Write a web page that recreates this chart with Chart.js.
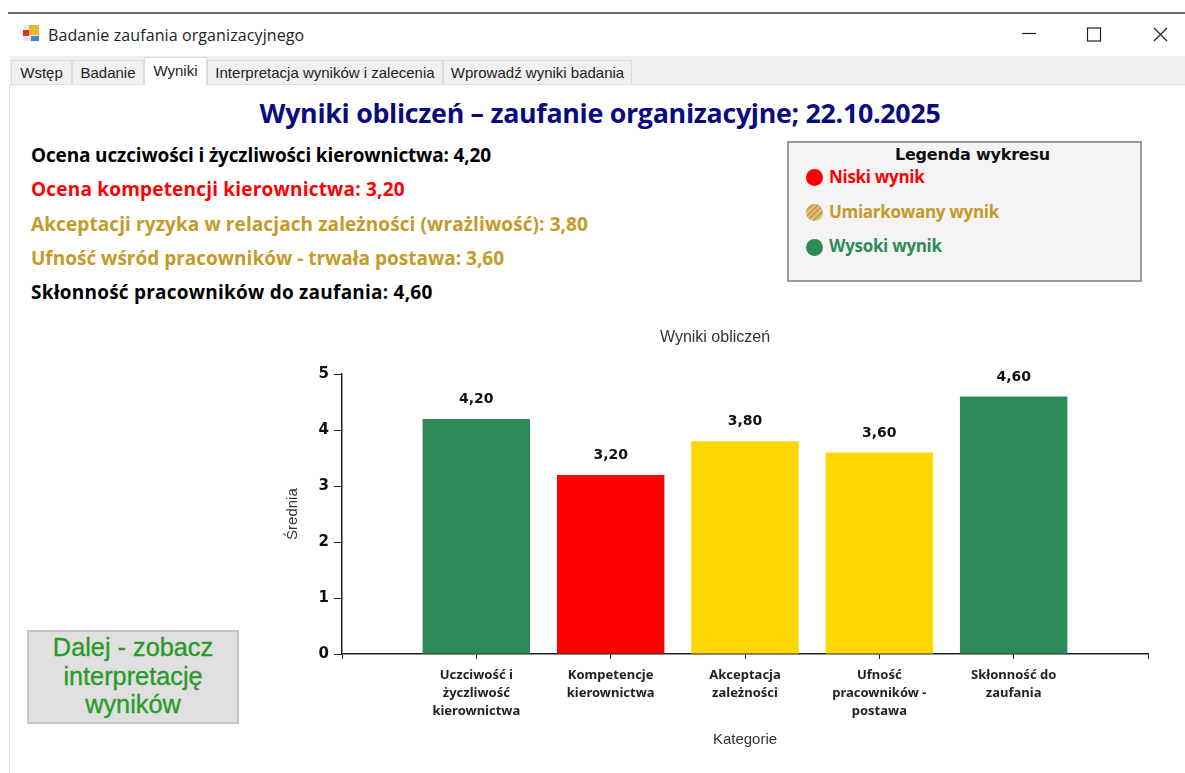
<!DOCTYPE html>
<html lang="pl"><head><meta charset="utf-8">
<script src="https://cdn.jsdelivr.net/npm/chart.js@4"></script>
<style>
html,body{margin:0;padding:0;width:1185px;height:773px;overflow:hidden;background:#fff}
.a{position:absolute;white-space:nowrap}
#topline{left:8px;top:12px;width:1177px;height:2px;background:#6e6e6e}
#tabbar{left:10px;top:56px;width:1175px;height:28px;background:#f0f0f0;border-bottom:1px solid #dcdcdc}
#lside{left:9px;top:84px;width:1px;height:689px;background:#dcdcdc}
.tab{font:15px "Liberation Sans",sans-serif;color:#222;background:#f0f0f0;border:1px solid #dcdcdc;border-bottom:none;height:24px;top:60px;line-height:24px;text-align:center;box-sizing:border-box}
.tab.on{background:#fff;top:57px;height:28px;line-height:26px;border-bottom:none}
.res{font:bold 19px "Open Sans",sans-serif;left:31px}
#btn{left:27px;top:630px;width:212px;height:94px;box-sizing:border-box;background:#e0e0e0;border:2px solid #c4c4c4;color:#2a9a2a;font:25.3px/28.7px "Liberation Sans",sans-serif;text-align:center;padding-top:1px;-webkit-text-stroke:.35px #2a9a2a}
#leg{left:787px;top:141px;width:355px;height:141px;box-sizing:border-box;background:#f4f4f4;border:2px solid #9a9a9a}
.dot{width:17px;height:17px;border-radius:50%;left:806px}
.lt{font:bold 17px "Open Sans",sans-serif;left:829px;letter-spacing:-.3px}
canvas{position:absolute;left:282px;top:320px}
</style></head><body>
<div class="a" id="topline"></div>
<svg class="a" style="left:22px;top:24px" width="18" height="18"><rect x="1" y="1" width="16" height="16" fill="#e8e8e8"/><rect x="7" y="1" width="10" height="10" fill="#e9b92b"/><rect x="1" y="6" width="6" height="6" fill="#d33"/><rect x="9" y="12" width="8" height="5" fill="#4a7fd0"/></svg>
<div class="a" style="left:48px;top:24px;font:16px 'Open Sans',sans-serif;color:#222;letter-spacing:.1px">Badanie zaufania organizacyjnego</div>
<svg class="a" style="left:1015px;top:22px" width="160" height="24" fill="none" stroke="#222" stroke-width="1.2"><path d="M7 11.5H21"/><rect x="72.5" y="6" width="13" height="13"/><path d="M139 6L152 19M152 6L139 19"/></svg>
<div class="a" id="tabbar"></div><div class="a" id="lside"></div>
<div class="a tab" style="left:11px;width:61px">Wstęp</div>
<div class="a tab" style="left:72px;width:72px">Badanie</div>
<div class="a tab on" style="left:144px;width:63px">Wyniki</div>
<div class="a tab" style="left:207px;width:236px">Interpretacja wyników i zalecenia</div>
<div class="a tab" style="left:443px;width:189px">Wprowadź wyniki badania</div>
<div class="a" style="left:0;width:1200px;text-align:center;top:94px;font:bold 26.8px 'Open Sans',sans-serif;color:#0b0b80;letter-spacing:-.3px">Wyniki obliczeń – zaufanie organizacyjne; 22.10.2025</div>
<div class="a res" style="top:142px;color:#000;letter-spacing:-.15px">Ocena uczciwości i życzliwości kierownictwa: 4,20</div>
<div class="a res" style="top:176px;color:#ff0000;letter-spacing:.2px">Ocena kompetencji kierownictwa: 3,20</div>
<div class="a res" style="top:211px;color:#c49a28;letter-spacing:.1px">Akceptacji ryzyka w relacjach zależności (wrażliwość): 3,80</div>
<div class="a res" style="top:245px;color:#c49a28">Ufność wśród pracowników - trwała postawa: 3,60</div>
<div class="a res" style="top:279px;color:#000;letter-spacing:.23px">Skłonność pracowników do zaufania: 4,60</div>
<div class="a" id="leg"></div>
<div class="a" style="left:795px;width:355px;text-align:center;top:145px;font:bold 16px 'DejaVu Sans',sans-serif;color:#111;letter-spacing:-.2px">Legenda wykresu</div>
<div class="a dot" style="top:169px;background:#ff0000"></div>
<div class="a dot" style="top:204px;background:repeating-linear-gradient(135deg,#c9a24a 0 2px,#dcc088 2px 4px)"></div>
<div class="a dot" style="top:239px;background:#2e8b57"></div>
<div class="a lt" style="top:165px;color:#ff0000">Niski wynik</div>
<div class="a lt" style="top:200px;color:#c49a28">Umiarkowany wynik</div>
<div class="a lt" style="top:234px;color:#2e8b57">Wysoki wynik</div>
<div class="a" id="btn">Dalej - zobacz<br>interpretację<br>wyników</div>
<canvas id="c" width="903" height="433" style="width:903px;height:433px"></canvas>
<script>
const categories=[["Uczciwość i","życzliwość","kierownictwa"],["Kompetencje","kierownictwa"],["Akceptacja","zależności"],["Ufność","pracowników -","postawa"],["Skłonność do","zaufania"]];
const values=[4.2,3.2,3.8,3.6,4.6];
const barColors=["#2e8b57","#ff0000","#ffd700","#ffd700","#2e8b57"];
const yTicks=[0,1,2,3,4,5];
const chartTitle="Wyniki obliczeń", xTitle="Kategorie", yTitle="Średnia";
const labels=["",...categories,""];
const valueLabels={id:"valueLabels",afterDatasetsDraw(ch){
  const c=ch.ctx,m=ch.getDatasetMeta(0);c.save();
  c.font="bold 14px 'DejaVu Sans'";c.fillStyle="#111";c.textAlign="center";c.textBaseline="alphabetic";
  m.data.forEach((b,i)=>{const v=ch.data.datasets[0].data[i];if(v==null)return;
    c.fillText(v.toFixed(2).replace(".",","),b.x,b.y-16);});
  c.restore();}};
new Chart(document.getElementById("c"),{type:"bar",
 data:{labels,datasets:[{data:[null,...values,null],backgroundColor:[null,...barColors,null],barPercentage:.8,categoryPercentage:1}]},
 plugins:[valueLabels],
 options:{responsive:false,animation:false,
  layout:{padding:{top:0,right:37,bottom:0,left:0}},
  plugins:{legend:{display:false},tooltip:{enabled:false},
   title:{display:true,text:chartTitle,color:"#333",font:{family:"Liberation Sans",size:16,weight:"normal"},padding:{top:8,bottom:27},position:"top"}},
  scales:{
   x:{offset:false,grid:{offset:false,drawOnChartArea:false,color:"#222",tickLength:5},border:{color:"#222",width:1.5},
      ticks:{color:"#222",font:{family:"Noto Sans",size:13,weight:"bold",lineHeight:1.4},maxRotation:0,minRotation:0,autoSkip:false,padding:7},
      title:{display:true,text:xTitle,color:"#333",font:{family:"Liberation Sans",size:15},padding:{top:8}},
      afterFit(s){s.height=99}},
   y:{min:0,max:5,afterBuildTicks(s){s.ticks=yTicks.map(v=>({value:v}))},
      grid:{drawOnChartArea:false,color:"#222",tickLength:8},border:{color:"#222",width:1.5},
      ticks:{color:"#111",font:{family:"DejaVu Sans",size:15,weight:"bold"},padding:5},
      title:{display:true,text:yTitle,color:"#333",font:{family:"Liberation Sans",size:15},padding:{top:2,bottom:0}},
      afterFit(s){s.width=60}}
  }}});
</script></body></html>
